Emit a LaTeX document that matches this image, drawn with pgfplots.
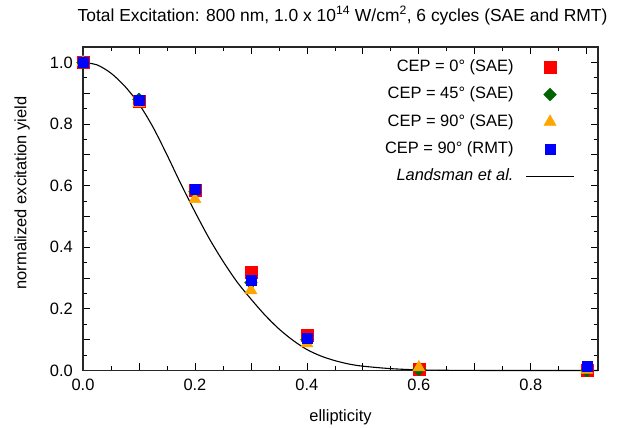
\documentclass[border=0pt]{standalone}
\usepackage{fontspec}
\setmainfont{Liberation Sans}
\usepackage{pgfplots}
\pgfplotsset{compat=1.18}

\definecolor{saered}{RGB}{255,0,0}
\definecolor{saegreen}{RGB}{0,100,0}
\definecolor{saeorange}{RGB}{255,165,0}
\definecolor{rmtblue}{RGB}{0,0,255}

\begin{document}
\fontsize{16.5}{19}\selectfont
\begin{tikzpicture}
\useasboundingbox (0,0) rectangle (628bp,428bp);
\begin{axis}[
    at={(83bp,57.5bp)}, anchor=south west,
    scale only axis,
    width=515bp, height=323.5bp,
    xmin=0, xmax=0.92,
    ymin=0, ymax=1.05,
    /pgf/number format/assume math mode=true,
    xtick={0,0.1,0.2,0.3,0.4,0.5,0.6,0.7,0.8,0.9},
    xticklabels={0.0,,0.2,,0.4,,0.6,,0.8,},
    ytick={0,0.1,0.2,0.3,0.4,0.5,0.6,0.7,0.8,0.9,1.0},
    yticklabels={0.0,,0.2,,0.4,,0.6,,0.8,,1.0},
    minor x tick num=1, minor y tick num=1,
    tick align=inside,
    major tick length=7bp, minor tick length=4bp,
    every tick/.style={black, line width=0.8bp},
    axis line style={black!85, line width=1.3bp},
    xticklabel style={inner sep=0pt, anchor=north, yshift=-8bp},
    yticklabel style={inner sep=0pt, anchor=east, xshift=-10bp},
    title={\fontsize{17.5}{20}\selectfont Total Excitation: 800 nm, 1.0 x 10\textsuperscript{14} W/cm\textsuperscript{2}, 6 cycles (SAE and RMT)},
    title style={anchor=base, at={(axis description cs:0.5,1)}, yshift=20bp, xshift=2bp, inner sep=0pt},
    xlabel={ellipticity},
    xlabel style={anchor=base, at={(axis description cs:0.5,0)}, yshift=-51bp, inner sep=0pt},
    ylabel={normalized excitation yield},
    ylabel style={at={(axis description cs:-0.118,0.549)}, anchor=center, inner sep=0pt},
    legend image code/.code={\draw[mark repeat=2,mark phase=2,#1] plot coordinates {(0bp,0bp) (24bp,0bp) (48bp,0bp)};},
    legend style={draw=none, fill=none, inner sep=0pt,
        at={(axis description cs:0.955,0.962)}, anchor=north east,
        nodes={inner sep=0pt, text height=12bp, text depth=3.5bp},
        column sep=12bp, row sep=11.8bp},
    legend cell align=right,
    legend plot pos=right,
    clip=false,
]
% Landsman et al. curve
\addplot[black, line width=1.1bp, smooth, forget plot] coordinates {
(0,1) (0.025,0.992) (0.05,0.965) (0.075,0.922) (0.1,0.865) (0.125,0.79)
(0.15,0.70) (0.175,0.605) (0.2,0.515) (0.225,0.43) (0.25,0.355) (0.275,0.288)
(0.3,0.232) (0.325,0.18) (0.35,0.135) (0.375,0.098) (0.4,0.068) (0.425,0.047)
(0.45,0.032) (0.475,0.021) (0.5,0.014) (0.55,0.006) (0.6,0.002) (0.65,0.0007)
(0.7,0.0002) (0.8,0) (0.92,0)
};
\addplot[only marks, mark=square*, mark size=6bp, color=saered] coordinates {
(0,1.0) (0.1,0.875) (0.2,0.585) (0.3,0.320) (0.4,0.113) (0.6,0.005) (0.9,0.002)
};
\addlegendentry{CEP = 0° (SAE)}
\addplot[only marks, mark=square*, mark size=4.5bp, mark options={rotate=45}, color=saegreen] coordinates {
(0,1.0) (0.1,0.88) (0.2,0.58) (0.3,0.285) (0.4,0.10) (0.6,0.004) (0.9,0.0)
};
\addlegendentry{CEP = 45° (SAE)}
\addplot[only marks, mark=triangle*, mark size=7bp, color=saeorange] coordinates {
(0,1.0) (0.1,0.868) (0.2,0.556) (0.3,0.260) (0.4,0.088) (0.6,0.010) (0.9,0.002)
};
\addlegendentry{CEP = 90° (SAE)}
\addplot[only marks, mark=square*, mark size=5bp, color=rmtblue] coordinates {
(0,1.0) (0.1,0.878) (0.2,0.588) (0.3,0.293) (0.4,0.104) (0.9,0.015)
};
\addlegendentry{CEP = 90° (RMT)}
\addlegendimage{black, line width=1.1bp}
\addlegendentry{\textit{Landsman et al.}}
\end{axis}
\end{tikzpicture}
\end{document}
